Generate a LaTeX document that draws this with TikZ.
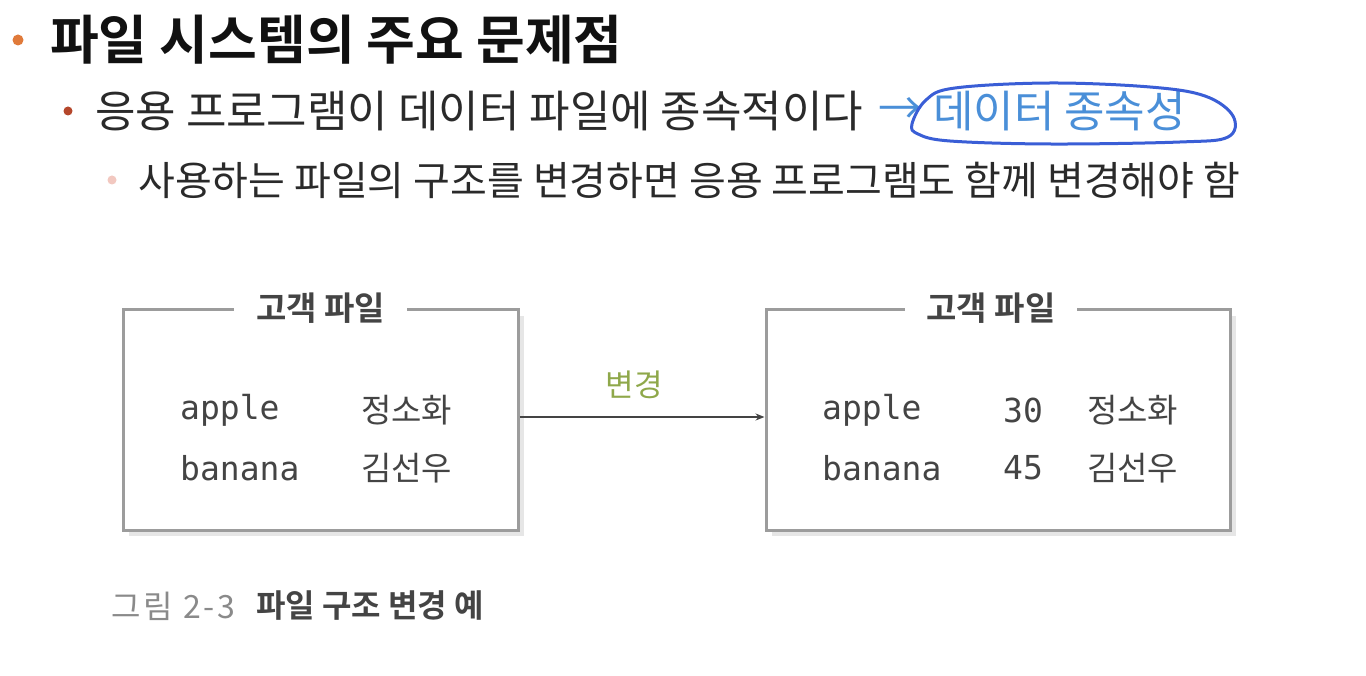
\documentclass[tikz,border=0pt]{standalone}
\usepackage{fontspec}
\setmainfont{Noto Sans CJK KR}[BoldFont={Noto Sans CJK KR Bold}]
\newfontfamily\monofnt{DejaVu Sans Mono}
\usetikzlibrary{arrows.meta,shadows,calc}
\definecolor{bulA}{HTML}{E07A3A}
\definecolor{bulB}{HTML}{B5472B}
\definecolor{bulC}{HTML}{F2C8C0}
\definecolor{txtA}{HTML}{111111}
\definecolor{txtB}{HTML}{2A2A2A}
\definecolor{linkblue}{HTML}{4A8FD8}
\definecolor{penblue}{HTML}{3A5ED6}
\definecolor{boxgray}{HTML}{9C9C9C}
\definecolor{boxtxt}{HTML}{444444}
\definecolor{greenlbl}{HTML}{8FA84A}
\definecolor{capgray}{HTML}{8A8A8A}
\tikzset{
  filebox/.style={draw=boxgray, line width=3pt, fill=white, inner sep=0pt,
    drop shadow={shadow xshift=6pt, shadow yshift=-6pt, fill=gray!35, opacity=0.55}},
  boxtitle/.style={fill=white, inner xsep=22pt, inner ysep=2pt, text=boxtxt,
    font=\fontsize{33}{36}\selectfont\bfseries},
  cell/.style={anchor=west, inner sep=0pt, text=boxtxt, font=\monofnt\fontsize{33}{36}\selectfont},
  kcell/.style={anchor=west, inner sep=0pt, text=boxtxt, font=\fontsize{33}{36}\selectfont},
  conn/.style={draw=boxtxt, line width=1.4pt, -{Stealth[length=9pt,width=7pt]}},
  lineA/.style={anchor=west, inner sep=0pt, text=txtB, font=\fontsize{44}{48}\selectfont},
  lineB/.style={anchor=west, inner sep=0pt, text=txtB, font=\fontsize{40}{44}\selectfont},
}
\begin{document}
\begin{tikzpicture}[x=1pt,y=-1pt]
\useasboundingbox[fill=white] (0,0) rectangle (1366,676);

% title
\fill[bulA] (18,40) circle (5.5);
\node[anchor=west, inner sep=0pt, text=txtA, font=\fontsize{53}{58}\selectfont\bfseries] (title) at (50,40) {파일 시스템의 주요 문제점};

% second line
\fill[bulB] (68,111) circle (4.5);
\node[lineA] (l2) at (95,111) {응용 프로그램이 데이터 파일에 종속적이다};
\node[lineA, text=linkblue] (arr) at (878,111) {→};
\node[lineA, text=linkblue] (dep) at (933,111) {데이터 종속성};
\draw[penblue, line width=3pt, line join=round] plot[smooth cycle, tension=0.6] coordinates {
  (912,124) (926,100) (955,88) (1050,83) (1150,87) (1205,96) (1233,116)
  (1228,137) (1180,142) (1050,144) (950,141) (918,134)};

% third line
\fill[bulC] (112,180) circle (4.5);
\node[lineB] (l3) at (138,180) {사용하는 파일의 구조를 변경하면 응용 프로그램도 함께 변경해야 함};

% boxes
\node[filebox, minimum width=395pt, minimum height=220pt] (L) at (320.5,420) {};
\node[filebox, minimum width=464pt, minimum height=220pt] (R) at (998,420) {};
\node[boxtitle] (Lt) at (L.north) {고객 파일};
\node[boxtitle] (Rt) at ($(R.north)+(-7,0)$) {고객 파일};

\node[cell] (la1) at (180,410) {apple};
\node[kcell] (lb1) at (361,410) {정소화};
\node[cell] (la2) at (180,468) {banana};
\node[kcell] (lb2) at (361,468) {김선우};

\node[cell] (ra1) at (822,410) {apple};
\node[cell] (rn1) at (1003,410) {30};
\node[kcell] (rb1) at (1087,410) {정소화};
\node[cell] (ra2) at (822,468) {banana};
\node[cell] (rn2) at (1003,468) {45};
\node[kcell] (rb2) at (1087,468) {김선우};

\draw[conn] ([yshift=3pt]L.east) -- node[above=14pt, text=greenlbl, font=\fontsize{31}{34}\selectfont, xshift=-8pt] (chg) {변경} ([yshift=3pt]R.west);

% caption
\node[anchor=west, inner sep=0pt, text=capgray, font=\fontsize{32}{35}\selectfont\addfontfeature{LetterSpace=9}] (cap1) at (111,606) {그림 2-3};
\node[anchor=west, inner sep=0pt, text=boxtxt, font=\fontsize{32}{35}\selectfont\bfseries] (cap2) at (256,606) {파일 구조 변경 예};
\end{tikzpicture}
\end{document}
